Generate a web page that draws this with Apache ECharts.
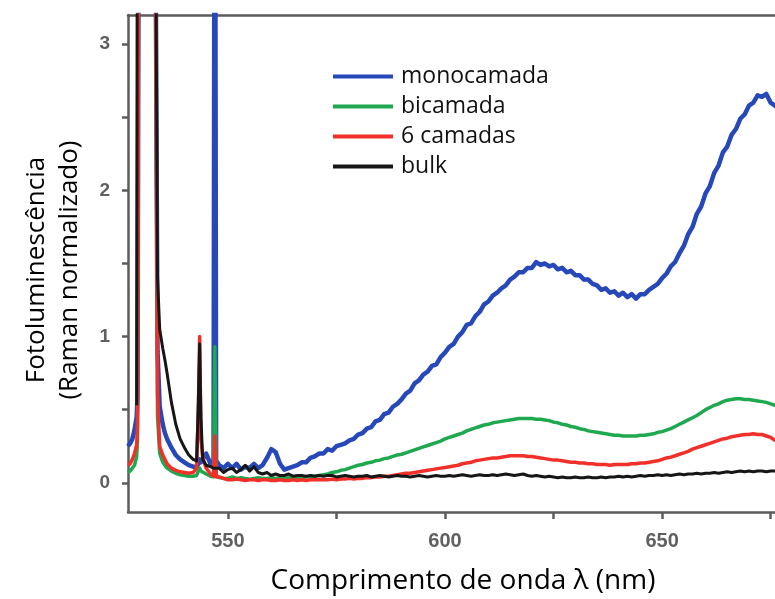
<!DOCTYPE html>
<html>
<head>
<meta charset="utf-8">
<script src="https://cdn.jsdelivr.net/npm/echarts@6/dist/echarts.min.js"></script>
<style>
  html, body { margin: 0; padding: 0; background: #fff; }
  #chart { width: 775px; height: 599px; }
</style>
</head>
<body>
<div id="chart"></div>
<script>
// Wavelength grid (nm): fine steps around the Raman lines, then 1 nm steps.
const wavelength = [
  527, 527.5, 528, 528.5, 529, 529.2, 529.6, 530, 531, 532,
  533, 533.4, 533.8, 534.3, 535, 535.5, 536, 537, 538, 539,
  540, 541, 542, 542.8, 543.2, 543.5, 543.8, 544.2, 545, 546,
  546.7, 547, 547.3, 548, 549, 550,
  551, 552, 553, 554, 555, 556, 557, 558, 559, 560,
  561, 562, 563, 564, 565, 566, 567, 568, 569, 570,
  571, 572, 573, 574, 575, 576, 577, 578, 579, 580,
  581, 582, 583, 584, 585, 586, 587, 588, 589, 590,
  591, 592, 593, 594, 595, 596, 597, 598, 599, 600,
  601, 602, 603, 604, 605, 606, 607, 608, 609, 610,
  611, 612, 613, 614, 615, 616, 617, 618, 619, 620,
  621, 622, 623, 624, 625, 626, 627, 628, 629, 630,
  631, 632, 633, 634, 635, 636, 637, 638, 639, 640,
  641, 642, 643, 644, 645, 646, 647, 648, 649, 650,
  651, 652, 653, 654, 655, 656, 657, 658, 659, 660,
  661, 662, 663, 664, 665, 666, 667, 668, 669, 670,
  671, 672, 673, 674, 675, 676, 677, 678, 679, 680
];

// Normalised intensity, same order as wavelength (values above 3.2 run off the plot).
const monocamada = [
  0.25, 0.27, 0.3, 0.36, 0.45, 0.6, 6, 6, 6, 6,
  6, 6, 0.9, 0.52, 0.4, 0.34, 0.3, 0.24, 0.19, 0.16,
  0.14, 0.12, 0.11, 0.11, 0.13, 0.16, 0.14, 0.13, 0.2, 0.13,
  0.12, 6, 0.15, 0.12, 0.1, 0.13,
  0.1, 0.13, 0.09, 0.11, 0.1, 0.13, 0.1, 0.12, 0.17, 0.23,
  0.21, 0.13, 0.09, 0.1, 0.11, 0.12, 0.14, 0.14, 0.17, 0.18,
  0.2, 0.2, 0.23, 0.22, 0.25, 0.26, 0.27, 0.29, 0.3, 0.33,
  0.34, 0.37, 0.38, 0.42, 0.43, 0.47, 0.48, 0.52, 0.54, 0.57,
  0.61, 0.63, 0.68, 0.7, 0.74, 0.76, 0.8, 0.81, 0.86, 0.89,
  0.93, 0.95, 1.0, 1.03, 1.08, 1.09, 1.14, 1.17, 1.22, 1.24,
  1.28, 1.3, 1.33, 1.35, 1.39, 1.41, 1.44, 1.44, 1.47, 1.47,
  1.51, 1.49, 1.5, 1.48, 1.49, 1.46, 1.47, 1.44, 1.45, 1.42,
  1.42, 1.39, 1.39, 1.36, 1.35, 1.32, 1.33, 1.3, 1.31, 1.28,
  1.3, 1.27, 1.29, 1.26, 1.29, 1.29, 1.32, 1.34, 1.36, 1.4,
  1.43, 1.48, 1.51, 1.57, 1.62, 1.7, 1.75, 1.84, 1.89, 1.98,
  2.03, 2.12, 2.17, 2.26, 2.3, 2.38, 2.42, 2.49, 2.52, 2.58,
  2.6, 2.65, 2.64, 2.66, 2.6, 2.58, 2.55, 2.56, 2.54, 2.55
];

const bicamada = [
  0.07, 0.08, 0.1, 0.12, 0.18, 0.3, 6, 6, 6, 6,
  6, 6, 0.45, 0.2, 0.14, 0.12, 0.1, 0.08, 0.065, 0.055,
  0.05, 0.045, 0.045, 0.05, 0.08, 0.1, 0.08, 0.07, 0.06, 0.045,
  0.04, 0.93, 0.05, 0.035, 0.03, 0.03,
  0.04, 0.03, 0.035, 0.03, 0.025, 0.03, 0.035, 0.03, 0.03, 0.035,
  0.03, 0.035, 0.03, 0.035, 0.035, 0.04, 0.035, 0.04, 0.045, 0.045,
  0.05, 0.055, 0.06, 0.07, 0.075, 0.085, 0.09, 0.1, 0.11, 0.12,
  0.125, 0.135, 0.14, 0.15, 0.155, 0.165, 0.17, 0.18, 0.19, 0.195,
  0.205, 0.215, 0.225, 0.235, 0.245, 0.255, 0.265, 0.275, 0.285, 0.3,
  0.31, 0.32, 0.33, 0.34, 0.355, 0.365, 0.375, 0.385, 0.395, 0.4,
  0.41, 0.415, 0.42, 0.425, 0.43, 0.435, 0.44, 0.44, 0.44, 0.44,
  0.435, 0.435, 0.43, 0.425, 0.415, 0.41, 0.4, 0.395, 0.385, 0.38,
  0.37, 0.365, 0.355, 0.35, 0.345, 0.34, 0.335, 0.33, 0.325, 0.325,
  0.32, 0.32, 0.32, 0.32, 0.325, 0.325, 0.33, 0.335, 0.345, 0.35,
  0.36, 0.37, 0.385, 0.4, 0.415, 0.43, 0.445, 0.46, 0.48, 0.5,
  0.515, 0.53, 0.54, 0.555, 0.565, 0.57, 0.575, 0.575, 0.57, 0.57,
  0.565, 0.56, 0.555, 0.55, 0.54, 0.53, 0.52, 0.52, 0.515, 0.515
];

const seisCamadas = [
  0.12, 0.13, 0.16, 0.2, 0.26, 0.4, 6, 6, 6, 6,
  6, 6, 0.6, 0.25, 0.19, 0.16, 0.13, 0.1, 0.085, 0.075,
  0.07, 0.065, 0.07, 0.1, 0.5, 1.0, 0.3, 0.17, 0.1, 0.06,
  0.045, 0.32, 0.04, 0.04, 0.03, 0.02,
  0.02, 0.025, 0.02, 0.015, 0.02, 0.02, 0.015, 0.02, 0.02, 0.015,
  0.015, 0.02, 0.015, 0.015, 0.02, 0.015, 0.02, 0.015, 0.02, 0.02,
  0.02, 0.02, 0.02, 0.025, 0.02, 0.025, 0.025, 0.03, 0.025, 0.03,
  0.03, 0.035, 0.035, 0.04, 0.04, 0.045, 0.045, 0.05, 0.055, 0.06,
  0.065, 0.065, 0.07, 0.075, 0.08, 0.085, 0.09, 0.095, 0.1, 0.105,
  0.11, 0.115, 0.12, 0.13, 0.135, 0.14, 0.15, 0.155, 0.16, 0.165,
  0.17, 0.17, 0.175, 0.18, 0.185, 0.185, 0.185, 0.185, 0.18, 0.18,
  0.175, 0.17, 0.165, 0.16, 0.155, 0.155, 0.15, 0.145, 0.14, 0.14,
  0.135, 0.135, 0.13, 0.13, 0.125, 0.125, 0.125, 0.12, 0.125, 0.125,
  0.125, 0.125, 0.13, 0.13, 0.135, 0.135, 0.14, 0.145, 0.15, 0.16,
  0.17, 0.175, 0.185, 0.195, 0.205, 0.215, 0.23, 0.24, 0.25, 0.26,
  0.27, 0.28, 0.29, 0.3, 0.305, 0.315, 0.32, 0.325, 0.33, 0.33,
  0.335, 0.33, 0.33, 0.32, 0.31, 0.29, 0.28, 0.28, 0.275, 0.275
];

const bulk = [
  null, null, null, null, 0.53, 6, 6, 6, 6, 6,
  6, 6, 1.4, 1.05, 0.92, 0.84, 0.75, 0.55, 0.4, 0.3,
  0.24, 0.19, 0.16, 0.15, 0.55, 0.95, 0.45, 0.16, 0.12, 0.11,
  0.1, 0.09, 0.1, 0.1, 0.07, 0.09,
  0.1, 0.07, 0.09, 0.12, 0.08, 0.11, 0.07, 0.06, 0.07, 0.05,
  0.06, 0.05, 0.05, 0.06, 0.045, 0.05, 0.05, 0.045, 0.05, 0.045,
  0.05, 0.045, 0.05, 0.05, 0.04, 0.045, 0.05, 0.045, 0.04, 0.045,
  0.045, 0.05, 0.04, 0.045, 0.05, 0.045, 0.04, 0.045, 0.05, 0.045,
  0.045, 0.04, 0.045, 0.05, 0.045, 0.04, 0.045, 0.05, 0.045, 0.045,
  0.05, 0.045, 0.05, 0.055, 0.05, 0.045, 0.05, 0.055, 0.05, 0.05,
  0.055, 0.05, 0.055, 0.06, 0.055, 0.05, 0.055, 0.06, 0.05, 0.045,
  0.05, 0.045, 0.04, 0.045, 0.04, 0.035, 0.04, 0.035, 0.035, 0.04,
  0.035, 0.035, 0.04, 0.035, 0.035, 0.04, 0.035, 0.04, 0.04, 0.045,
  0.04, 0.045, 0.04, 0.045, 0.05, 0.045, 0.05, 0.05, 0.055, 0.05,
  0.055, 0.05, 0.055, 0.06, 0.055, 0.06, 0.06, 0.065, 0.06, 0.065,
  0.065, 0.07, 0.065, 0.07, 0.075, 0.07, 0.075, 0.08, 0.075, 0.08,
  0.075, 0.08, 0.08, 0.075, 0.08, 0.08, 0.075, 0.08, 0.08, 0.08
];

const seriesNames = ['monocamada', 'bicamada', '6 camadas', 'bulk'];
const seriesColors = ['#2748b8', '#1ea84f', '#f2302a', '#161616'];
const seriesValues = [monocamada, bicamada, seisCamadas, bulk];
const lineWidths = [4.5, 3.5, 3.5, 3];

const xTickValues = [550, 575, 600, 625, 650, 675];
const xLabelValues = [550, 600, 650];
const yTickValues = [0, 0.5, 1, 1.5, 2, 2.5, 3];
const yLabelValues = [0, 1, 2, 3];

const xTitle = 'Comprimento de onda λ (nm)';
const yTitleLines = ['Fotoluminescência', '(Raman normalizado)'];

const axisGray = '#5c5c5c';
const titleFont = '"Open Sans", "DejaVu Sans", sans-serif';
const tickFont = '"Liberation Sans", Arial, sans-serif';

const chart = echarts.init(document.getElementById('chart'), null, { renderer: 'canvas' });

const series = seriesNames.map((name, i) => ({
  name: name,
  type: 'line',
  xAxisIndex: 0,
  yAxisIndex: 0,
  data: wavelength.map((w, k) => [w, seriesValues[i][k]]),
  showSymbol: false,
  symbol: 'none',
  connectNulls: false,
  clip: true,
  lineStyle: { color: seriesColors[i], width: lineWidths[i], join: 'round' },
  itemStyle: { color: seriesColors[i] },
  z: 2 + i
}));

// The plot runs off the right edge of the page, so the frame is open there.
chart.setOption({
  animation: false,
  backgroundColor: '#ffffff',
  grid: { left: 128, top: 15, right: 0, bottom: 87, show: false },
  legend: {
    data: seriesNames,
    orient: 'vertical',
    left: 328, top: 59,
    icon: 'rect',
    itemWidth: 60, itemHeight: 4,
    itemGap: 5,
    textStyle: {
      color: '#111', fontSize: 23, fontFamily: titleFont,
      lineHeight: 25, padding: [0, 0, 0, 3]
    }
  },
  xAxis: [{
    type: 'value',
    min: 527, max: 676,
    position: 'bottom',
    axisLine: { show: true, onZero: false, lineStyle: { color: axisGray, width: 2.5 } },
    axisTick: { show: true, inside: false, length: 7, customValues: xTickValues,
      lineStyle: { color: axisGray, width: 2.5 } },
    axisLabel: { show: true, customValues: xLabelValues, margin: 19,
      color: '#606060', fontSize: 20, fontWeight: 'bold', fontFamily: tickFont },
    splitLine: { show: false }
  }, {
    type: 'value',
    min: 527, max: 676,
    position: 'top',
    axisLine: { show: true, onZero: false, lineStyle: { color: axisGray, width: 2.5 } },
    axisTick: { show: false },
    axisLabel: { show: false },
    splitLine: { show: false }
  }],
  yAxis: {
    type: 'value',
    min: -0.2, max: 3.2,
    axisLine: { show: true, onZero: false, lineStyle: { color: axisGray, width: 2.5 } },
    axisTick: { show: true, inside: false, length: 6, customValues: yTickValues,
      lineStyle: { color: axisGray, width: 2.5 } },
    axisLabel: { show: true, customValues: yLabelValues, margin: 18,
      color: '#606060', fontSize: 19, fontWeight: 'bold', fontFamily: tickFont },
    splitLine: { show: false }
  },
  graphic: [{
    type: 'text',
    x: 463,
    y: 581,
    style: {
      text: xTitle,
      fill: '#000',
      font: '28px ' + titleFont,
      textAlign: 'center',
      textVerticalAlign: 'middle'
    }
  }].concat(yTitleLines.map((line, i) => ({
    type: 'text',
    x: 37 + i * 33,
    y: 270,
    rotation: Math.PI / 2,
    style: {
      text: line,
      fill: '#000',
      font: '26px ' + titleFont,
      textAlign: 'center',
      textVerticalAlign: 'middle'
    }
  }))),
  series: series
});
</script>
</body>
</html>
